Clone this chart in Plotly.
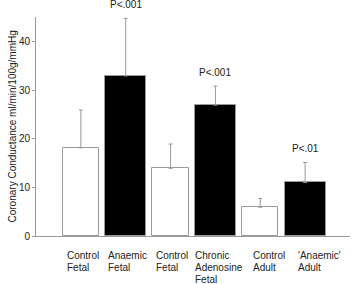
import plotly.graph_objects as go

categories = ["Control<br>Fetal", "Anaemic<br>Fetal", "Control<br>Fetal",
              "Chronic<br>Adenosine<br>Fetal", "Control<br>Adult", "'Anaemic'<br>Adult"]
values = [18.1, 32.9, 13.9, 26.9, 5.9, 11.0]
errors = [7.8, 11.8, 5.0, 3.9, 1.8, 4.1]
pvalues = ["", "P<.001", "", "P<.001", "", "P<.01"]
fills = ["white", "black", "white", "black", "white", "black"]
yticks = [0, 10, 20, 30, 40]

# styling: left offset of each category label relative to its bar centre (category units)
label_offsets = [-0.33, -0.41, -0.35, -0.47, -0.19, -0.19]

xs = list(range(len(values)))
widths = [0.81 if f == "white" else 0.91 for f in fills]

fig = go.Figure()
fig.add_trace(go.Bar(
    x=xs, y=values, width=widths,
    marker=dict(color=fills, line=dict(color="#9a9a9a", width=1)),
    error_y=dict(type="data", symmetric=False, array=errors,
                 arrayminus=[0] * len(errors), color="#9a9a9a",
                 thickness=1, width=2),
    showlegend=False,
))

font = dict(family="Liberation Sans, Arial, sans-serif", size=10, color="#222")
line_shifts = [-19, -31, -43]

for i, (v, e, p) in enumerate(zip(values, errors, pvalues)):
    if p:
        fig.add_annotation(x=i, y=v + e, text=p, showarrow=False,
                           yanchor="middle", yshift=14, font=font)
    for j, line in enumerate(categories[i].split("<br>")):
        fig.add_annotation(x=i + label_offsets[i], y=0, yref="y",
                           text=line, showarrow=False,
                           xanchor="left", yanchor="middle", align="left",
                           yshift=line_shifts[j], font=font, borderpad=0)

fig.add_annotation(x=0, xref="paper", xshift=-24, y=0.5, yref="paper",
                   text="Coronary Conductance ml/min/100g/mmHg",
                   textangle=-90, showarrow=False, xanchor="center",
                   yanchor="middle", font=font)

fig.update_layout(
    width=352, height=284,
    margin=dict(l=36, r=2, t=17, b=48),
    plot_bgcolor="white", paper_bgcolor="white",
    font=font,
    bargap=0,
)
fig.update_xaxes(range=[-1, 6], showticklabels=False, ticks="",
                 showgrid=False, zeroline=False, automargin=False,
                 showline=True, linecolor="#9a9a9a", linewidth=1)
fig.update_yaxes(range=[0, 45], tickvals=yticks, ticks="outside", ticklen=3,
                 tickcolor="#9a9a9a", showgrid=False, zeroline=False,
                 automargin=False,
                 showline=True, linecolor="#9a9a9a", linewidth=1)

fig.write_html("out.html", config={"displayModeBar": False},
               post_script="document.body.style.margin='0';document.body.style.overflow='hidden';")
